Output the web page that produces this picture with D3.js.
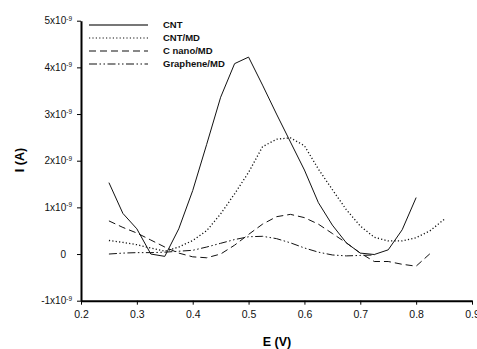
<!DOCTYPE html>
<html>
<head>
<meta charset="utf-8">
<script src="https://cdn.jsdelivr.net/npm/d3@7"></script>
<style>
  body { margin: 0; background: #fff; }
  svg { display: block; font-family: "Liberation Sans", Arial, sans-serif; }
</style>
</head>
<body>
<svg id="chart" width="477" height="349"></svg>
<script>
"use strict"

// potential (V), sampled every 0.025 V
const potential = [0.25, 0.275, 0.3, 0.325, 0.35, 0.375, 0.4, 0.425, 0.45, 0.475, 0.5, 0.525,
    0.55, 0.575, 0.6, 0.625, 0.65, 0.675, 0.7, 0.725, 0.75, 0.775, 0.8, 0.825, 0.85]

// currents in units of 1e-9 A
const cnt = [1.53, 0.87, 0.54, 0.0, -0.05, 0.54, 1.36, 2.35, 3.36, 4.08, 4.22, 3.62, 3.0,
    2.4, 1.8, 1.1, 0.62, 0.24, 0.02, -0.01, 0.09, 0.52, 1.21]
const cntMd = [0.29, 0.25, 0.2, 0.13, 0.06, 0.15, 0.29, 0.5, 0.86, 1.29, 1.75, 2.3, 2.46,
    2.49, 2.32, 1.82, 1.38, 0.95, 0.6, 0.36, 0.28, 0.28, 0.35, 0.5, 0.74]
const cNanoMd = [0.71, 0.57, 0.45, 0.3, 0.15, 0.02, -0.06, -0.08, 0.0, 0.19, 0.42, 0.64,
    0.8, 0.85, 0.78, 0.64, 0.44, 0.24, 0.02, -0.16, -0.16, -0.22, -0.26, 0.01]
const grapheneMd = [0.0, 0.02, 0.03, 0.03, 0.04, 0.06, 0.08, 0.15, 0.23, 0.31, 0.37, 0.38,
    0.33, 0.24, 0.13, 0.04, -0.02, -0.04, -0.03, -0.02]

const seriesNames = ["CNT", "CNT/MD", "C nano/MD", "Graphene/MD"]
const seriesValues = [cnt, cntMd, cNanoMd, grapheneMd]
const dashes = [null, "1.2,2.2", "7,4", "8,2.5,1.5,2.5,1.5,2.5"]

const xTicks = [0.2, 0.3, 0.4, 0.5, 0.6, 0.7, 0.8, 0.9]
const yTicks = [-1, 0, 1, 2, 3, 4, 5]

const svg = d3.select("#chart")

const x = d3.scaleLinear().domain([0.2, 0.9]).range([81, 472])
const y = d3.scaleLinear().domain([-1, 5]).range([300.7, 20.7])

// axes
const xAxis = svg.append("g")
    .attr("transform", `translate(0,${y(-1)})`)
    .call(d3.axisBottom(x).tickValues(xTicks).tickSize(4).tickSizeOuter(0).tickFormat(d3.format(".1f")))
xAxis.select(".domain").attr("stroke-width", 2)
xAxis.selectAll(".tick line").attr("stroke-width", 1)
xAxis.selectAll(".tick text")
    .attr("font-size", 10.5).attr("fill", "#111").attr("y", 8).attr("dy", "0.9em")
    .attr("font-family", "Liberation Sans, Arial, sans-serif")

const yAxis = svg.append("g")
    .attr("transform", `translate(${x(0.2)},0)`)
    .call(d3.axisLeft(y).tickValues(yTicks).tickSize(4).tickSizeOuter(0).tickFormat(""))
yAxis.select(".domain").attr("stroke-width", 2)

yAxis.selectAll(".tick").each(function (d) {
    const t = d3.select(this).append("text")
        .attr("fill", "#111")
        .attr("font-size", 10)
        .attr("font-family", "Liberation Sans, Arial, sans-serif")
        .attr("text-anchor", "end")
        .attr("dy", "0.32em")
    if (d == 0) {
        t.attr("x", -15).text("0")
    } else {
        t.attr("x", -9)
        t.append("tspan").text(d + "x10")
        t.append("tspan").attr("font-size", 6.5).attr("dy", "-0.55em").text("-9")
    }
})

// axis titles
svg.append("text")
    .attr("x", 277).attr("y", 346)
    .attr("text-anchor", "middle")
    .attr("font-size", 12.5).attr("font-weight", "bold")
    .text("E (V)")

svg.append("text")
    .attr("transform", "translate(24,160) rotate(-90)")
    .attr("text-anchor", "middle")
    .attr("font-size", 12.5).attr("font-weight", "bold")
    .text("I (A)")

// curves
const line = d3.line()
    .x((d, i) => x(potential[i]))
    .y(d => y(d))

svg.append("g").selectAll("path")
    .data(seriesValues)
    .join("path")
    .attr("fill", "none")
    .attr("stroke", "#111")
    .attr("stroke-width", (d, i) => i == 1 ? 1.3 : 1)
    .attr("stroke-dasharray", (d, i) => dashes[i])
    .attr("d", line)

// legend
const legend = svg.append("g").selectAll("g")
    .data(seriesNames)
    .join("g")
    .attr("transform", (d, i) => `translate(0,${25 + i * 13})`)

legend.append("line")
    .attr("x1", 89).attr("x2", 148)
    .attr("stroke", (d, i) => i == 0 ? "#777" : "#111")
    .attr("stroke-width", (d, i) => i == 0 ? 2 : 1.2)
    .attr("stroke-dasharray", (d, i) => dashes[i])

legend.append("text")
    .attr("x", 163).attr("dy", "0.35em")
    .attr("font-size", 9.5).attr("font-weight", "bold")
    .attr("fill", "#111")
    .text(d => d)
</script>
</body>
</html>
